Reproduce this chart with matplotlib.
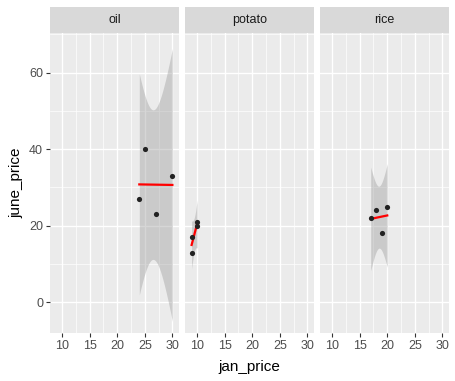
import numpy as np
import matplotlib
matplotlib.use("Agg")
import matplotlib.pyplot as plt
from matplotlib.ticker import MultipleLocator

plt.rcParams['font.family'] = ['Liberation Sans', 'DejaVu Sans']

foods = ["oil", "potato", "rice"]
jan_price = {
    "oil": [24, 25, 27, 30],
    "potato": [9, 9, 10, 10],
    "rice": [17, 18, 19, 20],
}
june_price = {
    "oil": [27, 40, 23, 33],
    "potato": [17, 13, 20, 21],
    "rice": [22, 24, 18, 25],
}
x_ticks = [10, 15, 20, 25, 30]
y_ticks = [0, 20, 40, 60]
T_975_DF2 = 4.303  # t quantile for 95% CI, n=4


def lm_band(x, y, n=80):
    x = np.asarray(x, float)
    y = np.asarray(y, float)
    b, a = np.polyfit(x, y, 1)
    xs = np.linspace(x.min(), x.max(), n)
    fit = a + b * xs
    resid = y - (a + b * x)
    s = np.sqrt(np.sum(resid ** 2) / (len(x) - 2))
    sxx = np.sum((x - x.mean()) ** 2)
    se = s * np.sqrt(1 / len(x) + (xs - x.mean()) ** 2 / sxx)
    return xs, fit, fit - T_975_DF2 * se, fit + T_975_DF2 * se


fig = plt.figure(figsize=(4.56, 3.81), dpi=100)
W, H = 456, 381
left_px = [50, 185, 320]
pw = 129
top, bottom = 33, 333

for i, food in enumerate(foods):
    ax = fig.add_axes([left_px[i] / W, 1 - bottom / H, pw / W, (bottom - top) / H])
    ax.set_facecolor("#EBEBEB")
    for s in ax.spines.values():
        s.set_visible(False)
    xs, fit, lo, hi = lm_band(jan_price[food], june_price[food])
    ax.fill_between(xs, lo, hi, color="#999999", alpha=0.4, lw=0, zorder=2)
    ax.plot(xs, fit, color="red", lw=1.6, zorder=3)
    ax.scatter(jan_price[food], june_price[food], s=14, color="#222222", zorder=4, lw=0)
    ax.set_xlim(7.8, 31.2)
    ax.set_ylim(-8.0, 70.35)
    ax.set_xticks(x_ticks)
    ax.set_yticks(y_ticks)
    ax.xaxis.set_minor_locator(MultipleLocator(2.5))
    ax.yaxis.set_minor_locator(MultipleLocator(10))
    ax.grid(True, which="major", color="white", lw=1.0, zorder=0)
    ax.grid(True, which="minor", color="white", lw=0.5, zorder=0)
    ax.set_axisbelow(True)
    ax.tick_params(which="minor", length=0)
    ax.tick_params(which="major", length=3, color="#333333", labelcolor="#4D4D4D",
                   labelsize=9, pad=2)
    if i > 0:
        ax.tick_params(axis="y", left=False, labelleft=False)
    # strip
    sax = fig.add_axes([left_px[i] / W, 1 - top / H, pw / W, 26 / H])
    sax.set_facecolor("#D9D9D9")
    sax.set_xticks([])
    sax.set_yticks([])
    for s in sax.spines.values():
        s.set_visible(False)
    sax.text(0.5, 0.5, food, ha="center", va="center", fontsize=9, color="#1A1A1A",
             transform=sax.transAxes)

fig.text(0.5 * (50 + 449) / W, 1 - 367 / H, "jan_price", ha="center", va="center", fontsize=11)
fig.text(16 / W, 1 - 183 / H, "june_price", ha="center", va="center", rotation=90, fontsize=11)

fig.savefig("out.png", dpi=100)
